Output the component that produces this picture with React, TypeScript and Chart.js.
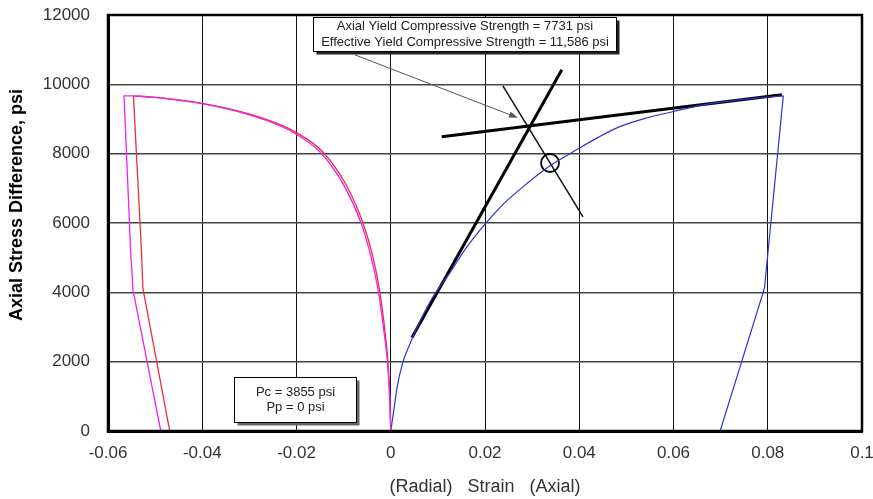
import { useEffect, useRef } from 'react';
import { Chart, registerables } from 'chart.js';

Chart.register(...registerables);

const FONT = '"Liberation Sans", Arial, Helvetica, sans-serif';

// Radial strain, red run: loading curve and unloading path
const radialRedLoadX = [0, -0.0002, -0.0006, -0.0011, -0.0023, -0.0038, -0.0059, -0.0094, -0.0144, -0.02, -0.0236, -0.0292, -0.0342, -0.04, -0.0455, -0.0505, -0.0546];
const radialRedLoadY = [0, 900, 2000, 2720, 4000, 5030, 6000, 7080, 8047, 8607, 8845, 9114, 9294, 9451, 9561, 9631, 9668];
const radialRedUnloadX = [-0.0546, -0.0529, -0.0526, -0.0469, -0.0441];
const radialRedUnloadY = [9668, 5200, 4120, 0, 0];

// Radial strain, magenta run: loading curve and unloading path
const radialMagentaLoadX = [0, -0.0002, -0.0007, -0.0013, -0.0026, -0.0042, -0.0063, -0.0099, -0.015, -0.0206, -0.0242, -0.0298, -0.0348, -0.0405, -0.046, -0.0508, -0.0548];
const radialMagentaLoadY = [0, 900, 2000, 2720, 4000, 5030, 6000, 7080, 8047, 8607, 8845, 9114, 9294, 9451, 9561, 9631, 9668];
const radialMagentaUnloadX = [-0.0548, -0.0566, -0.0552, -0.0547, -0.0488, -0.0469];
const radialMagentaUnloadY = [9668, 9668, 5200, 4070, 0, 0];

// Axial strain: loading curve and unloading path
const axialLoadX = [0, 0.0006, 0.0014, 0.0026, 0.0037, 0.0047, 0.0065, 0.009, 0.0125, 0.016, 0.02, 0.024, 0.0281, 0.0338, 0.0394, 0.044, 0.0486, 0.054, 0.06, 0.0663, 0.072, 0.078, 0.0833];
const axialLoadY = [0, 550, 1300, 2000, 2390, 2720, 3250, 3880, 4550, 5280, 5970, 6560, 7050, 7650, 8110, 8470, 8780, 9020, 9216, 9409, 9520, 9610, 9668];
const axialUnloadX = [0.0833, 0.0801, 0.0793, 0.0699, 0.0554];
const axialUnloadY = [9668, 5220, 4120, 0, 0];

// Construction lines for the yield point
const elasticTangentX = [0.0045, 0.0363];
const elasticTangentY = [2700, 10420];
const plasticTangentX = [0.0108, 0.083];
const plasticTangentY = [8485, 9697];
const bisectorX = [0.0238, 0.0408];
const bisectorY = [9957, 6176];

const axialYieldStrength = 7731;
const yieldStrainX = 0.0338;

// Callout arrow (data units)
const arrowFrom = { x: -0.0076, y: 10850 };
const arrowTo = { x: 0.027, y: 9033 };

const strengthLines = [
  'Axial Yield Compressive Strength = 7731 psi',
  'Effective Yield Compressive Strength = 11,586 psi',
];
const strengthBox = { xMin: -0.0165, xMax: 0.0479, yMin: 10950, yMax: 11940 };

const pressureLines = ['Pc = 3855 psi', 'Pp = 0 psi'];
const pressureBox = { xMin: -0.0333, xMax: -0.0073, yMin: 268, yMax: 1550 };

const xMin = -0.06;
const xMax = 0.1;
const xStep = 0.02;
const yMin = 0;
const yMax = 12000;
const yStep = 2000;

const xTitle = '(Radial)   Strain   (Axial)';
const yTitle = 'Axial Stress Difference, psi';

const zip = (xs: number[], ys: number[]) => xs.map((x, i) => ({ x, y: ys[i] }));

function drawBox(
  ctx: CanvasRenderingContext2D,
  chart: any,
  box: { xMin: number; xMax: number; yMin: number; yMax: number },
  lines: string[],
  shadow: string
) {
  const { x, y } = chart.scales;
  const l = Math.round(x.getPixelForValue(box.xMin)) + 0.5;
  const r = Math.round(x.getPixelForValue(box.xMax)) + 0.5;
  const t = Math.round(y.getPixelForValue(box.yMax)) + 0.5;
  const b = Math.round(y.getPixelForValue(box.yMin)) + 0.5;
  ctx.fillStyle = shadow;
  ctx.fillRect(l + 3, t + 3, r - l, b - t);
  ctx.fillStyle = '#fff';
  ctx.fillRect(l, t, r - l, b - t);
  ctx.strokeStyle = '#000';
  ctx.lineWidth = 1;
  ctx.strokeRect(l, t, r - l, b - t);
  ctx.fillStyle = '#222';
  ctx.font = `13px ${FONT}`;
  ctx.textAlign = 'center';
  ctx.textBaseline = 'middle';
  const cx = (l + r) / 2;
  const cy = (t + b) / 2;
  const lh = 15.6;
  lines.forEach((s, i) => {
    ctx.fillText(s, cx, cy + (i - (lines.length - 1) / 2) * lh);
  });
}

const overlay = {
  id: 'overlay',
  afterDatasetsDraw(chart: any) {
    const { ctx, chartArea: a, scales } = chart;
    const { x, y } = scales;
    ctx.save();

    // plot frame
    ctx.strokeStyle = '#000';
    ctx.lineWidth = 2.5;
    ctx.strokeRect(a.left, a.top, a.right - a.left, a.bottom - a.top);

    // callout arrow
    const x0 = x.getPixelForValue(arrowFrom.x);
    const y0 = y.getPixelForValue(arrowFrom.y);
    const x1 = x.getPixelForValue(arrowTo.x);
    const y1 = y.getPixelForValue(arrowTo.y);
    const ang = Math.atan2(y1 - y0, x1 - x0);
    ctx.strokeStyle = '#555';
    ctx.fillStyle = '#555';
    ctx.lineWidth = 1;
    ctx.beginPath();
    ctx.moveTo(x0, y0);
    ctx.lineTo(x1 - 6 * Math.cos(ang), y1 - 6 * Math.sin(ang));
    ctx.stroke();
    ctx.beginPath();
    ctx.moveTo(x1, y1);
    ctx.lineTo(x1 - 9 * Math.cos(ang) + 3 * Math.sin(ang), y1 - 9 * Math.sin(ang) - 3 * Math.cos(ang));
    ctx.lineTo(x1 - 9 * Math.cos(ang) - 3 * Math.sin(ang), y1 - 9 * Math.sin(ang) + 3 * Math.cos(ang));
    ctx.closePath();
    ctx.fill();

    drawBox(ctx, chart, strengthBox, strengthLines, '#222');
    drawBox(ctx, chart, pressureBox, pressureLines, '#666');

    ctx.restore();
  },
  afterDraw(chart: any) {
    const { ctx } = chart;
    ctx.save();
    ctx.translate(17, 205);
    ctx.rotate(-Math.PI / 2);
    ctx.fillStyle = '#000';
    ctx.font = `bold 18px ${FONT}`;
    ctx.textAlign = 'center';
    ctx.textBaseline = 'middle';
    ctx.fillText(yTitle, 0, 0);
    ctx.restore();
  },
};

export default function App() {
  const canvasRef = useRef<HTMLCanvasElement | null>(null);

  useEffect(() => {
    const canvas = canvasRef.current;
    if (!canvas) return;
    const lineDs = (label: string, xs: number[], ys: number[], color: string, width: number, smooth = false) => ({
      label,
      data: zip(xs, ys),
      showLine: true,
      borderColor: color,
      borderWidth: width,
      pointRadius: 0,
      fill: false,
      tension: 0,
      cubicInterpolationMode: smooth ? 'monotone' : 'default',
    });

    const magenta = '#ee22ee';
    const red = '#e8303a';
    const blue = '#3030d8';

    const chart = new Chart(canvas, {
      type: 'scatter',
      data: {
        datasets: [
          lineDs('Radial (magenta) unload', radialMagentaUnloadX, radialMagentaUnloadY, magenta, 1.3),
          lineDs('Radial (magenta)', radialMagentaLoadX, radialMagentaLoadY, magenta, 1.3, true),
          lineDs('Radial (red) unload', radialRedUnloadX, radialRedUnloadY, red, 1.3),
          lineDs('Radial (red)', radialRedLoadX, radialRedLoadY, red, 1.3, true),
          lineDs('Axial unload', axialUnloadX, axialUnloadY, blue, 1.2),
          lineDs('Axial', axialLoadX, axialLoadY, blue, 1.2, true),
          lineDs('Elastic tangent', elasticTangentX, elasticTangentY, '#000', 3),
          lineDs('Plastic tangent', plasticTangentX, plasticTangentY, '#000', 3),
          lineDs('Bisector', bisectorX, bisectorY, '#111', 1.5),
          {
            label: 'Yield point',
            data: [{ x: yieldStrainX, y: axialYieldStrength }],
            showLine: false,
            pointRadius: 9,
            pointBorderWidth: 1.8,
            pointBorderColor: '#000',
            pointBackgroundColor: 'rgba(0,0,0,0)',
          } as any,
        ] as any,
      },
      options: {
        responsive: false,
        animation: false,
        events: [],
        layout: { padding: { top: 15, right: 11, left: 0, bottom: 0 } },
        plugins: {
          legend: { display: false },
          tooltip: { enabled: false },
        },
        scales: {
          x: {
            type: 'linear',
            min: xMin,
            max: xMax,
            afterFit: (s: any) => {
              s.height = 68;
              s.paddingLeft = 0;
              s.paddingRight = 0;
            },
            ticks: {
              stepSize: xStep,
              padding: 12,
              color: '#333',
              font: { family: FONT, size: 17 },
              callback: (v: any) => Number(Number(v).toFixed(2)).toString(),
            },
            grid: { color: '#111', lineWidth: 1, drawTicks: false },
            border: { display: true, color: '#000', width: 3 },
            title: {
              display: true,
              text: xTitle,
              color: '#333',
              font: { family: FONT, size: 18 },
              padding: { top: 0, bottom: 1 },
            },
          },
          y: {
            type: 'linear',
            min: yMin,
            max: yMax,
            afterFit: (s: any) => {
              s.width = 108;
              s.paddingTop = 0;
              s.paddingBottom = 0;
            },
            ticks: {
              stepSize: yStep,
              padding: 18,
              color: '#333',
              font: { family: FONT, size: 17 },
              callback: (v: any) => String(v),
            },
            grid: { color: '#444', lineWidth: 1.5, drawTicks: false },
            border: { display: true, color: '#000', width: 3 },
          },
        },
      },
      plugins: [overlay],
    });

    return () => chart.destroy();
  }, []);

  return (
    <div style={{ position: 'absolute', left: 0, top: 0, width: 873, height: 499, background: '#fff' }}>
      <canvas ref={canvasRef} width={873} height={499} style={{ display: 'block' }} />
    </div>
  );
}
